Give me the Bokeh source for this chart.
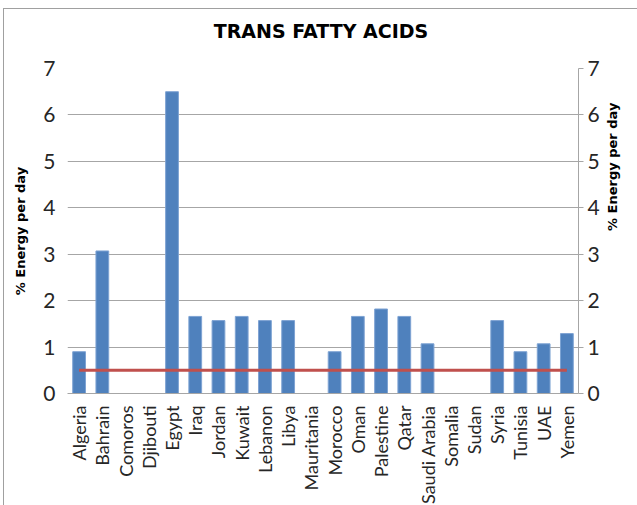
from bokeh.plotting import figure
from bokeh.models import Range1d, FixedTicker, LinearAxis, FactorRange, Div
from bokeh.layouts import column
from bokeh.embed import file_html
from bokeh.resources import INLINE
from math import pi

countries = ["Algeria", "Bahrain", "Comoros", "Djibouti", "Egypt", "Iraq", "Jordan",
             "Kuwait", "Lebanon", "Libya", "Mauritania", "Morocco", "Oman", "Palestine",
             "Qatar", "Saudi Arabia", "Somalia", "Sudan", "Syria", "Tunisia", "UAE", "Yemen"]
tfa_energy = [0.9, 3.07, 0, 0, 6.5, 1.66, 1.57, 1.66, 1.57, 1.57, 0, 0.9, 1.66, 1.82,
              1.66, 1.07, 0, 0, 1.57, 0.9, 1.07, 1.29]
recommended_max = [0.5] * len(countries)
y_ticks = [0, 1, 2, 3, 4, 5, 6, 7]

FONT = "Lato"
GRID = "#a6a6a6"

# chart heading above the plot
head = Div(text="TRANS FATTY ACIDS", width=634, height=44, margin=0,
           styles={"font-family": "DejaVu Sans", "font-size": "19px", "font-weight": "bold",
                   "color": "#000000", "text-align": "center", "line-height": "44px"})

p = figure(width=634, height=453, x_range=FactorRange(*countries), y_range=Range1d(0, 7),
           output_backend="svg", toolbar_location=None,
           min_border_left=63, min_border_right=60, min_border_top=15, min_border_bottom=113)
p.margin = 0
p.outline_line_color = None

p.vbar(x=countries, top=tfa_energy, width=0.55, fill_color="#4f81bd", line_color="#7ea3d3",
       line_width=1)
p.line(x=countries, y=recommended_max, line_color="#c0504d", line_width=3)

# left value axis
ya = p.yaxis[0]
ya.ticker = FixedTicker(ticks=y_ticks)
ya.axis_line_color = None
ya.major_tick_line_color = None
ya.minor_tick_line_color = None
ya.major_label_text_font = FONT
ya.major_label_text_font_size = "21px"
ya.major_label_text_color = "#262626"
ya.major_label_standoff = 6
ya.axis_label = "% Energy per day"
ya.axis_label_text_font = "DejaVu Sans"
ya.axis_label_text_font_size = "13px"
ya.axis_label_text_font_style = "bold"
ya.axis_label_text_color = "#000000"
ya.axis_label_standoff = 12

# right value axis, title reading bottom-to-top like the left one
ra = LinearAxis(ticker=FixedTicker(ticks=y_ticks))
ra.axis_line_color = GRID
ra.major_tick_line_color = GRID
ra.major_tick_in = 0
ra.major_tick_out = 5
ra.minor_tick_line_color = None
ra.major_label_text_font = FONT
ra.major_label_text_font_size = "21px"
ra.major_label_text_color = "#262626"
ra.major_label_standoff = 4
ra.axis_label = "% Energy per day"
ra.axis_label_text_font = "DejaVu Sans"
ra.axis_label_text_font_size = "13px"
ra.axis_label_text_font_style = "bold"
ra.axis_label_text_color = "#000000"
ra.axis_label_standoff = 10
ra.axis_label_orientation = pi / 2
p.add_layout(ra, "right")

# category axis
xa = p.xaxis[0]
xa.axis_line_color = GRID
xa.major_tick_line_color = None
xa.minor_tick_line_color = None
xa.major_label_orientation = pi / 2
xa.major_label_text_font = FONT
xa.major_label_text_font_size = "18px"
xa.major_label_text_color = "#262626"
xa.major_label_standoff = 6

p.xgrid.grid_line_color = None
p.ygrid.ticker = FixedTicker(ticks=y_ticks)
p.ygrid.grid_line_color = GRID

page = column(head, p, spacing=0, margin=(8, 0, 0, 3),
              styles={"border-top": "1px solid #a0a0a0", "border-left": "1px solid #a0a0a0"})

open("out.html", "w").write(file_html(page, INLINE))
